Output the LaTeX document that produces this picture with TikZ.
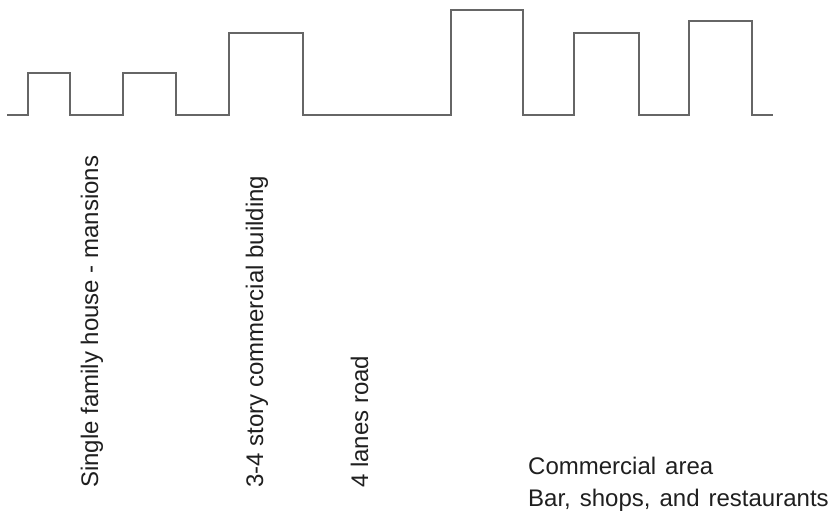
\documentclass[tikz,border=0pt]{standalone}
\usepackage{fontspec}
\setmainfont{Liberation Sans}
\newfontfamily\widefont[WordSpace=1.35]{Liberation Sans}
\begin{document}
\begin{tikzpicture}[x=1pt,y=-1pt,
  profile/.style={draw=black!60, line width=1.4pt, line join=miter},
  vlabel/.style={rotate=90, anchor=base west, inner sep=0pt, text=black!88, font=\fontsize{24}{29}\selectfont},
  hlabel/.style={anchor=base west, inner sep=0pt, text=black!88, font=\widefont\fontsize{24}{29}\selectfont}]
\useasboundingbox (0,0) rectangle (831,512);
\coordinate (p0) at (7,115);
\coordinate (p1) at (773,115);
\draw[profile] (p0) -- (28,115) -- (28,73) -- (70,73) -- (70,115)
  -- (123,115) -- (123,73) -- (176,73) -- (176,115)
  -- (229,115) -- (229,33) -- (303,33) -- (303,115)
  -- (451,115) -- (451,10) -- (523,10) -- (523,115)
  -- (574,115) -- (574,33) -- (639,33) -- (639,115)
  -- (689,115) -- (689,21) -- (752,21) -- (752,115) -- (p1);
\node[vlabel] (sfh) at (98,488) {Single family house - mansions};
\node[vlabel] (com) at (263,488) {3-4 story commercial building};
\node[vlabel] (road) at (368,488) {4 lanes road};
\node[hlabel] (ca) at (528,474) {Commercial area};
\node[hlabel] (bar) at (528,506) {Bar, shops, and restaurants};
\end{tikzpicture}
\end{document}
